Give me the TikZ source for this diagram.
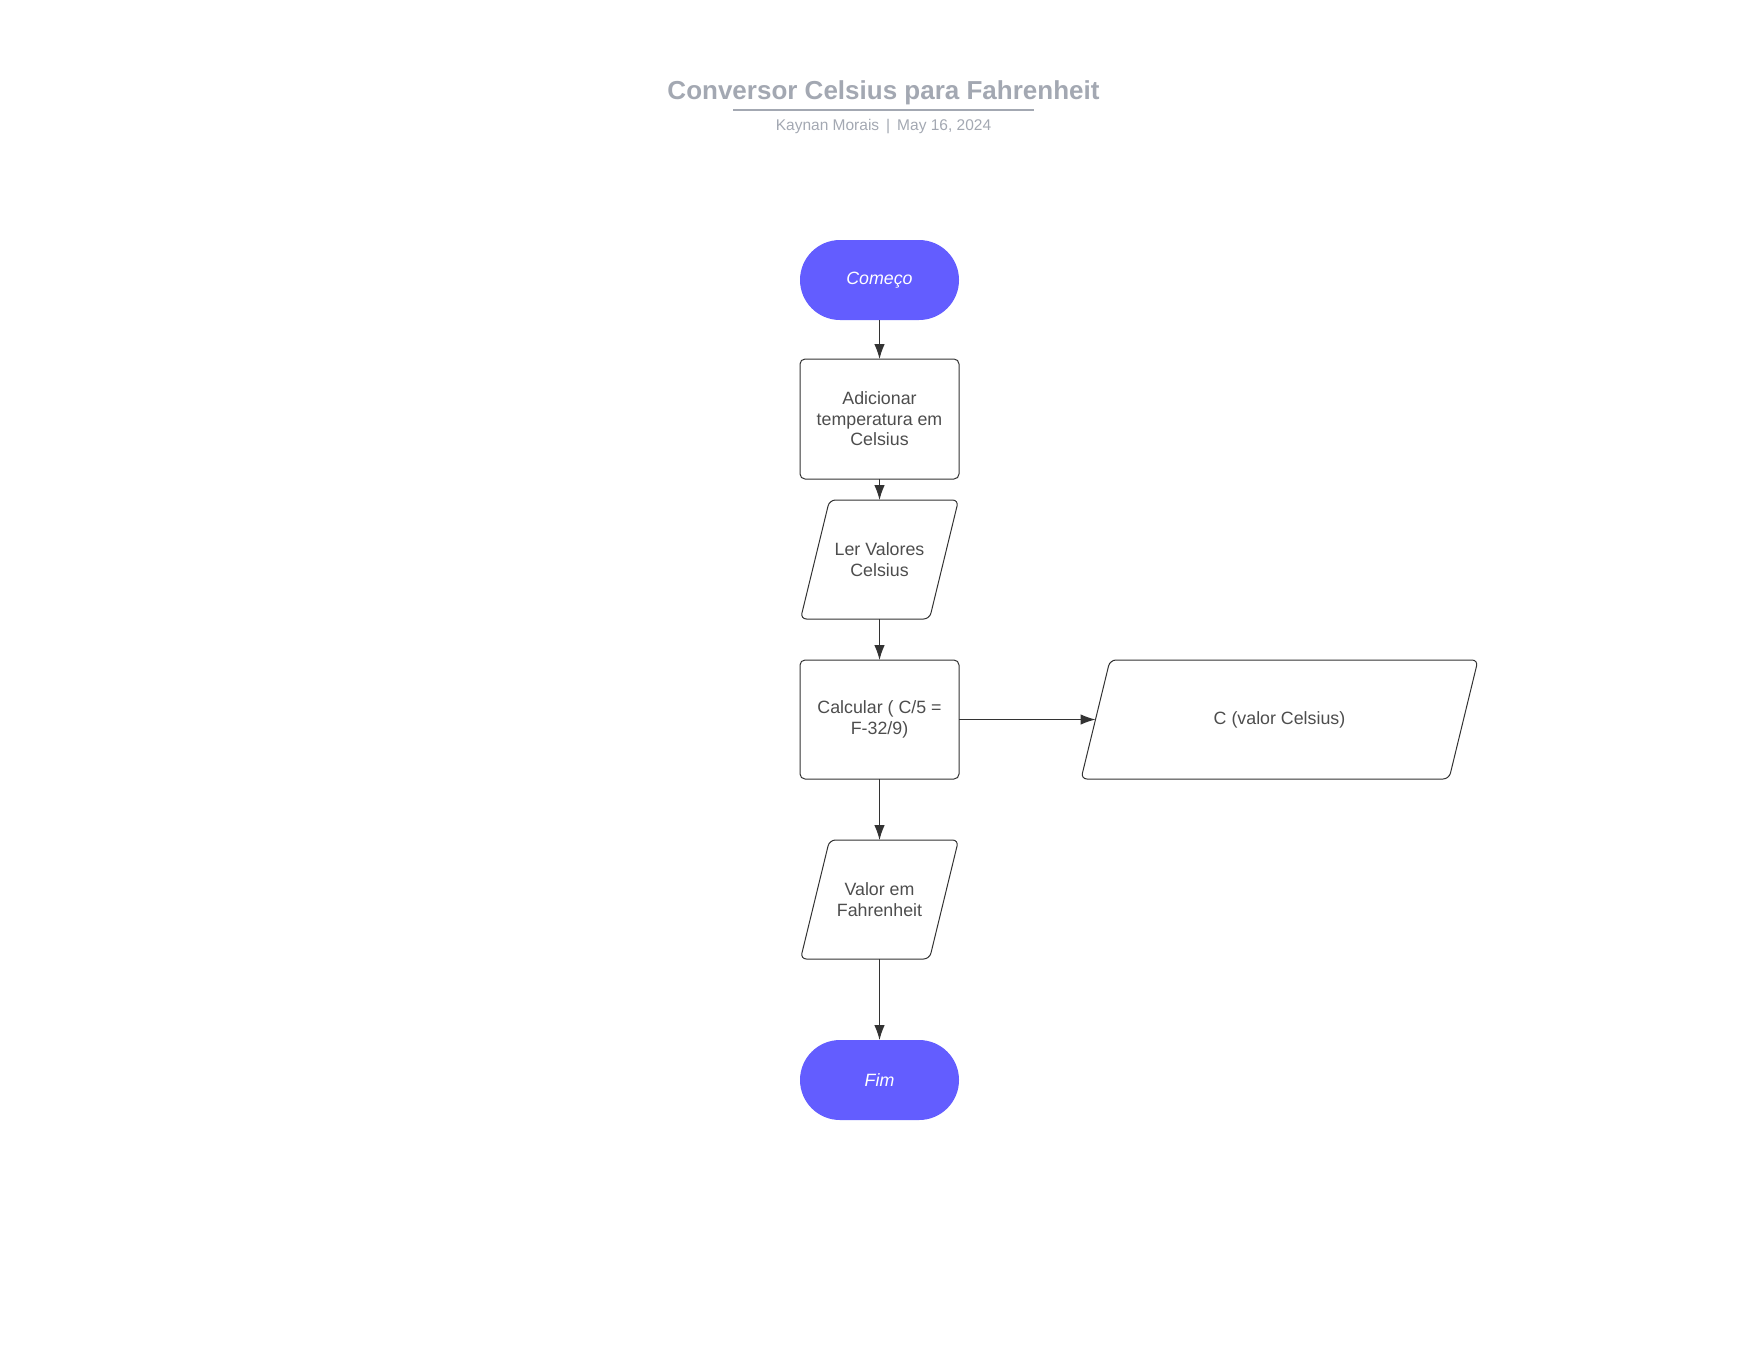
\documentclass[tikz,border=0pt]{standalone}
\usepackage{fontspec}
\setmainfont{Liberation Sans}
\usetikzlibrary{arrows.meta,calc}
\definecolor{inkline}{HTML}{333333}
\definecolor{inktext}{HTML}{4D4D4D}
\definecolor{terminalfill}{HTML}{635DFF}
\definecolor{titlegray}{HTML}{A3A8B2}
\begin{document}
\begin{tikzpicture}[x=1pt,y=-1pt,
  every node/.style={inner sep=0pt, outer sep=0pt},
  body/.style={font=\fontsize{17.8}{20.5}\selectfont, text=inktext, align=center},
  terminal/.style={body, fill=terminalfill, text=white,
    font=\fontsize{17.8}{20.5}\selectfont\itshape,
    rounded corners=40pt, minimum width=159pt, minimum height=80pt},
  process/.style={body, draw=inkline, line width=1pt, rounded corners=5pt,
    minimum width=159pt, minimum height=119pt},
  ioframe/.style={body, minimum height=119pt},
  ioline/.style={draw=inkline, line width=1pt, rounded corners=6pt},
  flow/.style={draw=inkline, line width=1pt, -{Latex[length=15pt,width=10.5pt]}}
]
\useasboundingbox (0,0) rectangle (1760,1360);

% heading
\node[font=\fontsize{26}{30}\selectfont\bfseries, text=titlegray, anchor=base]
  (title) at (883.5,99) {Conversor Celsius para Fahrenheit};
\draw[titlegray, line width=1.5pt] (733,110) -- (1034,110);
\node[font=\fontsize{15.5}{18}\selectfont, text=titlegray, anchor=base]
  (byline) at (883.5,130) {Kaynan Morais\hspace{7pt}|\hspace{7pt}May 16, 2024};

% flow nodes
\node[terminal] (start) at (879.5,280) {Começo};
\node[process, minimum height=120pt] (add) at (879.5,419)
  {Adicionar\\temperatura em\\Celsius};
\node[ioframe, minimum width=158pt] (ler) at (879.5,559.5) {Ler Valores\\Celsius};
\node[process] (calc) at (879.5,719.5) {Calcular ( C/5 =\\F-32/9)};
\node[ioframe, minimum width=397pt] (cval) at (1279.5,719.5) {C (valor Celsius)};
\node[ioframe, minimum width=158pt] (valor) at (879.5,899.5) {Valor em\\Fahrenheit};
\node[terminal] (fim) at (879.5,1080) {Fim};

% parallelogram outlines for the input/output steps
\foreach \n in {ler,valor,cval}{
  \draw[ioline] (\n.south west) -- ($(\n.north west)+(29,0)$) -- (\n.north east)
    -- ($(\n.south east)+(-29,0)$) -- cycle;
}

% connectors
\draw[flow] (start) -- (add);
\draw[flow] (add) -- (ler);
\draw[flow] (ler) -- (calc);
\draw[flow] (calc) -- (valor);
\draw[flow] (valor) -- (fim);
\draw[flow] (calc.east) -- ($(cval.west)+(14.5,0)$);
\end{tikzpicture}
\end{document}
